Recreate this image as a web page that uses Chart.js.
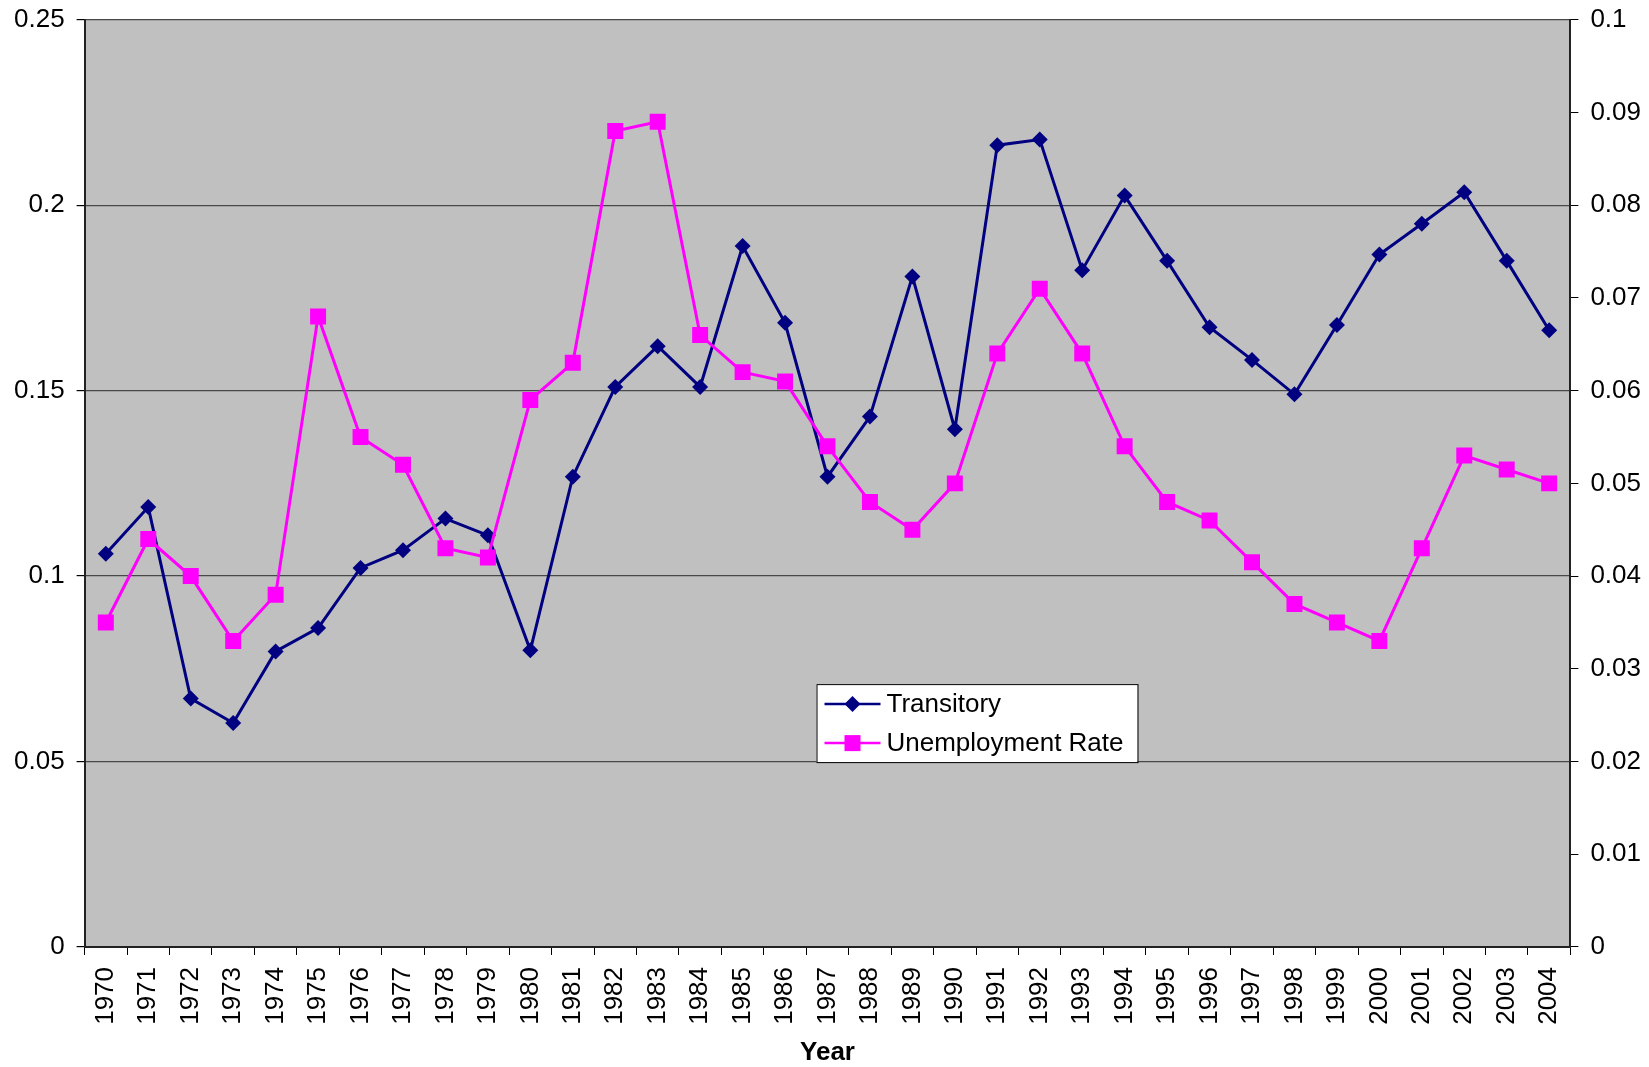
<!DOCTYPE html>
<html>
<head>
<meta charset="utf-8">
<script src="https://cdn.jsdelivr.net/npm/chart.js@4"></script>
<style>
  html, body { margin: 0; padding: 0; background: #fff; }
  #wrap { width: 1649px; height: 1067px; position: relative; }
</style>
</head>
<body>
<div id="wrap"><canvas id="transitoryChart"></canvas></div>
<script>
// Years on the x axis
const years = ['1970', '1971', '1972', '1973', '1974', '1975', '1976', '1977', '1978', '1979',
    '1980', '1981', '1982', '1983', '1984', '1985', '1986', '1987', '1988', '1989',
    '1990', '1991', '1992', '1993', '1994', '1995', '1996', '1997', '1998', '1999',
    '2000', '2001', '2002', '2003', '2004'];

// Transitory component (left axis)
const transitory = [0.106, 0.1186, 0.067, 0.0604, 0.0797, 0.086, 0.1022, 0.107, 0.1155, 0.111,
    0.080, 0.1268, 0.151, 0.162, 0.151, 0.189, 0.1683, 0.1268, 0.143, 0.1808,
    0.1396, 0.2162, 0.2177, 0.1825, 0.2026, 0.185, 0.1671, 0.1583, 0.149, 0.1677,
    0.1867, 0.195, 0.2035, 0.185, 0.1663];

// Unemployment rate (right axis)
const unemployment = [0.035, 0.044, 0.040, 0.033, 0.038, 0.068, 0.055, 0.052, 0.043, 0.042,
    0.059, 0.063, 0.088, 0.089, 0.066, 0.062, 0.061, 0.054, 0.048, 0.045,
    0.050, 0.064, 0.071, 0.064, 0.054, 0.048, 0.046, 0.0415, 0.037, 0.035,
    0.033, 0.043, 0.053, 0.0515, 0.050];

const FONT = "'Liberation Sans', Arial, sans-serif";
const NAVY = '#000080';
const MAGENTA = '#FF00FF';

// grey plot area, like the old Excel default
const plotBackground = {
    id: 'plotBackground',
    beforeDraw(chart) {
        const { ctx, chartArea: a } = chart;
        ctx.save();
        ctx.fillStyle = '#C0C0C0';
        ctx.fillRect(a.left, a.top, a.right - a.left, a.bottom - a.top);
        ctx.restore();
    }
};

// legend box sitting inside the plot area
const boxLegend = {
    id: 'boxLegend',
    afterDraw(chart) {
        const { ctx, chartArea: a } = chart;
        const w = a.right - a.left;
        const h = a.bottom - a.top;
        const x = a.left + w * 0.4926;
        const y = a.top + h * 0.7165;
        const bw = 321, bh = 78;
        ctx.save();
        ctx.fillStyle = '#fff';
        ctx.fillRect(x, y, bw, bh);
        ctx.strokeStyle = '#000';
        ctx.lineWidth = 1;
        ctx.strokeRect(x + 0.5, y + 0.5, bw, bh);

        const items = [
            { label: chart.data.datasets[0].label, color: NAVY, shape: 'diamond' },
            { label: chart.data.datasets[1].label, color: MAGENTA, shape: 'square' }
        ];
        items.forEach((it, i) => {
            const cy = y + 20 + i * 39;
            const lx0 = x + 8, lx1 = x + 64, mx = x + 36;
            ctx.strokeStyle = it.color;
            ctx.lineWidth = 2.5;
            ctx.beginPath();
            ctx.moveTo(lx0, cy);
            ctx.lineTo(lx1, cy);
            ctx.stroke();
            ctx.fillStyle = it.color;
            ctx.beginPath();
            if (it.shape === 'diamond') {
                ctx.moveTo(mx - 8, cy);
                ctx.lineTo(mx, cy - 8);
                ctx.lineTo(mx + 8, cy);
                ctx.lineTo(mx, cy + 8);
                ctx.closePath();
            } else {
                ctx.rect(mx - 8, cy - 8, 16, 16);
            }
            ctx.fill();
            ctx.fillStyle = '#000';
            ctx.font = '26px ' + FONT;
            ctx.textBaseline = 'middle';
            ctx.fillText(it.label, x + 70, cy + 1);
        });
        ctx.restore();
    }
};

const fmt = v => String(parseFloat(Number(v).toFixed(3)));

const config = {
    type: 'line',
    data: {
        labels: years,
        datasets: [{
            label: 'Transitory',
            data: transitory,
            yAxisID: 'y',
            borderColor: NAVY,
            backgroundColor: NAVY,
            borderWidth: 3,
            pointStyle: 'rectRot',
            pointRadius: 8,
            pointHoverRadius: 8,
            pointBorderWidth: 0,
            tension: 0,
            order: 1
        }, {
            label: 'Unemployment Rate',
            data: unemployment,
            yAxisID: 'y1',
            borderColor: MAGENTA,
            backgroundColor: MAGENTA,
            borderWidth: 3,
            pointStyle: 'rect',
            pointRadius: 11.3,
            pointHoverRadius: 11.3,
            pointBorderWidth: 0,
            tension: 0,
            order: 0
        }]
    },
    options: {
        responsive: true,
        maintainAspectRatio: false,
        animation: false,
        layout: {
            padding: { top: 0, right: -4, bottom: -1, left: 2 }
        },
        plugins: {
            legend: { display: false },
            title: { display: false },
            tooltip: { enabled: false }
        },
        scales: {
            x: {
                offset: true,
                grid: {
                    offset: true,
                    drawOnChartArea: false,
                    color: '#000',
                    tickLength: 8
                },
                border: { display: true, color: '#222', width: 2 },
                ticks: {
                    minRotation: 90,
                    maxRotation: 90,
                    autoSkip: false,
                    padding: 12,
                    color: '#000',
                    font: { family: FONT, size: 26 }
                },
                title: {
                    display: true,
                    text: 'Year',
                    color: '#000',
                    padding: { top: 0, bottom: 0 },
                    font: { family: FONT, size: 26, weight: 'bold' }
                }
            },
            y: {
                position: 'left',
                min: 0,
                max: 0.25,
                ticks: {
                    stepSize: 0.05,
                    padding: 12,
                    color: '#000',
                    font: { family: FONT, size: 26, lineHeight: 0.6 },
                    callback: fmt
                },
                grid: {
                    color: '#484848',
                    tickColor: '#000',
                    tickLength: 8,
                    lineWidth: 1.2
                },
                border: { display: true, color: '#222', width: 2 }
            },
            y1: {
                position: 'right',
                min: 0,
                max: 0.1,
                ticks: {
                    stepSize: 0.01,
                    padding: 12,
                    color: '#000',
                    font: { family: FONT, size: 26, lineHeight: 0.6 },
                    callback: fmt
                },
                grid: {
                    drawOnChartArea: false,
                    color: '#000',
                    tickLength: 8
                },
                border: { display: true, color: '#222', width: 2 }
            }
        }
    },
    plugins: [plotBackground, boxLegend]
};

const chartContext = document.getElementById('transitoryChart').getContext('2d');
const transitoryChart = new Chart(chartContext, config);
</script>
</body>
</html>
